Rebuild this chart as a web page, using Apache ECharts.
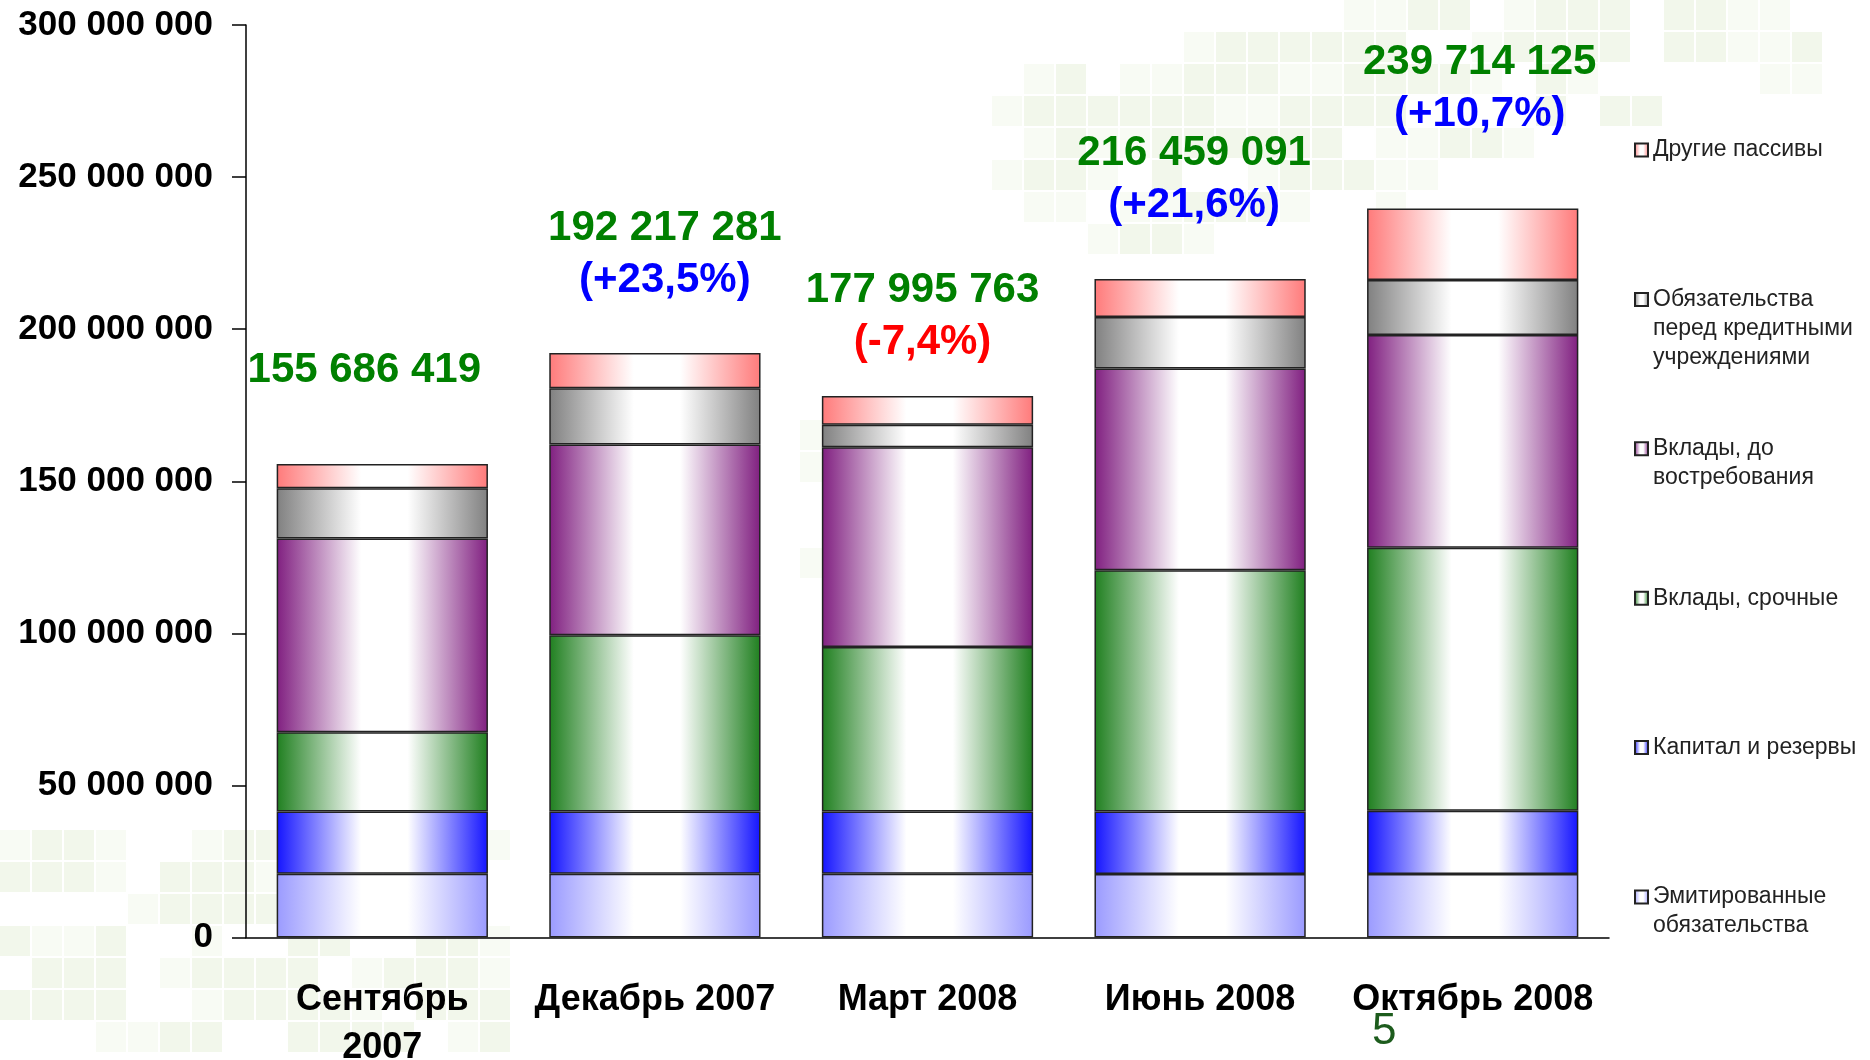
<!DOCTYPE html>
<html>
<head>
<meta charset="utf-8">
<script src="https://cdn.jsdelivr.net/npm/echarts@6/dist/echarts.min.js"></script>
<style>
  html, body { margin: 0; padding: 0; background: #fff; }
  #chart { width: 1870px; height: 1060px; }
</style>
</head>
<body>
<div id="chart"></div>
<script>
// периоды
var categories = ['Сентябрь\n2007', 'Декабрь 2007', 'Март 2008', 'Июнь 2008', 'Октябрь 2008'];
// структура пассивов, млн руб. (снизу вверх)
var emitted = [21.0, 21.0, 21.0, 20.9, 20.9];
var capital = [20.4, 20.4, 20.4, 20.5, 20.8];
var termDeposits = [26.1, 58.0, 54.1, 79.3, 86.4];
var demandDeposits = [63.7, 62.7, 65.7, 66.4, 70.0];
var creditOrgs = [16.5, 18.5, 7.4, 16.9, 18.1];
var otherLiab = [8.0, 11.6, 9.4, 12.5, 23.5];
// итоги и прирост
var totals = [155686419, 192217281, 177995763, 216459091, 239714125];
var changes = ['', '(+23,5%)', '(-7,4%)', '(+21,6%)', '(+10,7%)'];
// шкала, млн руб.
var yMax = 300;
var yStep = 50;

// подписи над столбцами (сдвиги как на слайде)
var labelLift = [67, 46, 28, 48, 68];
var labelShiftX = [-18, 10, -5, -6, 7];

var FONT = '"Liberation Sans", Arial, sans-serif';

function spaced(n) {
  return String(n).replace(/\B(?=(\d{3})+(?!\d))/g, ' ');
}

function grad(c) {
  return {
    type: 'linear', x: 0, y: 0, x2: 1, y2: 0,
    colorStops: [
      { offset: 0, color: c },
      { offset: 0.4, color: '#ffffff' },
      { offset: 0.62, color: '#ffffff' },
      { offset: 1, color: c }
    ]
  };
}

var seriesDefs = [
  { name: 'Эмитированные\nобязательства', data: emitted, color: '#9a9aff' },
  { name: 'Капитал и резервы', data: capital, color: '#1414ff' },
  { name: 'Вклады, срочные', data: termDeposits, color: '#1f7f1f' },
  { name: 'Вклады, до\nвостребования', data: demandDeposits, color: '#801f80' },
  { name: 'Обязательства\nперед кредитными\nучреждениями', data: creditOrgs, color: '#808080' },
  { name: 'Другие пассивы', data: otherLiab, color: '#ff7a7a' }
];

var series = seriesDefs.map(function (s, idx) {
  var item = {
    name: s.name,
    type: 'bar',
    stack: 'total',
    barWidth: '77.5%',
    itemStyle: { color: grad(s.color), borderColor: '#222', borderWidth: 1.5 },
    emphasis: { disabled: true },
    data: s.data
  };
  if (idx === seriesDefs.length - 1) {
    item.data = s.data.map(function (v, i) {
      return { value: v, label: { distance: labelLift[i], offset: [labelShiftX[i], 0] } };
    });
    item.label = {
      show: true,
      position: 'top',
      formatter: function (p) {
        var i = p.dataIndex;
        var s1 = '{t|' + spaced(totals[i]) + '}';
        if (!changes[i]) return s1;
        var key = changes[i].indexOf('-') >= 0 ? 'dn' : 'up';
        return s1 + '\n{' + key + '|' + changes[i] + '}';
      },
      rich: {
        t: { fontFamily: FONT, fontSize: 42, fontWeight: 'bold', color: '#008000', lineHeight: 52 },
        up: { fontFamily: FONT, fontSize: 42, fontWeight: 'bold', color: '#0000ff', lineHeight: 52 },
        dn: { fontFamily: FONT, fontSize: 42, fontWeight: 'bold', color: '#ff0000', lineHeight: 52 }
      }
    };
  }
  return item;
});

// легенда: по отдельному блоку на каждую позицию, сверху вниз
var legendOrder = seriesDefs.slice().reverse();
var legendLine = 29;
var legends = legendOrder.map(function (s, i) {
  var n = s.name.split('\n').length;
  var yc = 150 + i * 149.4;
  return {
    data: [s.name],
    orient: 'vertical',
    left: 1634,
    top: yc - (2 * n - 1) * legendLine / 2,
    padding: 0,
    icon: 'rect',
    itemWidth: 13,
    itemHeight: 13,
    selectedMode: false,
    formatter: function (name) {
      var k = name.split('\n').length;
      return new Array(k).join('\n') + name;
    },
    textStyle: { fontFamily: FONT, fontSize: 23, color: '#222', lineHeight: legendLine }
  };
});

// фоновая «плитка» слайда
var shades = { '1': '#f8fbf4', '2': '#f2f7eb', '3': '#edf4e3' };
var tiles = [
  { x0: 0, y0: 830, rows: [
    '1221..1221....11',
    '2221.2221.122.2.',
    '....1222212221..',
    '2112..1..22..221',
    '.222.12222.12221',
    '2222..122221.222',
    '...1122..2222.12'
  ]},
  { x0: 960, y0: 0, rows: [
    '............1122.1222.2211..',
    '.......1222222..12222.22112.',
    '..12.112221122221.21.....11.',
    '.1222222112222....2.22......',
    '..1211222222.11221..........',
    '.1221.2..122211.............',
    '..11.112221..1..............',
    '....1221....................'
  ]},
  { x0: 800, y0: 420, rows: [
    '11...',
    '121..',
    '.11..',
    '.....',
    '1211.',
    '.121.',
    '..1..'
  ]}
];
var bgElements = [];
tiles.forEach(function (t) {
  t.rows.forEach(function (row, r) {
    for (var c = 0; c < row.length; c++) {
      var ch = row.charAt(c);
      if (ch === '.') continue;
      bgElements.push({
        type: 'rect', silent: true, z: -10,
        shape: { x: t.x0 + c * 32, y: t.y0 + r * 32, width: 30, height: 30 },
        style: { fill: shades[ch] }
      });
    }
  });
});
bgElements.push({
  type: 'text', left: 1372, top: 1010, z: 10,
  style: { text: '5', fill: '#1d5c1d', fontSize: 44, fontFamily: '"Liberation Sans Narrow", ' + FONT }
});

var chart = echarts.init(document.getElementById('chart'), null, { renderer: 'canvas' });
chart.setOption({
  animation: false,
  backgroundColor: '#fff',
  grid: { left: 246, right: 261, top: 25, bottom: 122.5, containLabel: false, outerBoundsMode: 'none' },
  graphic: { elements: bgElements },
  legend: legends,
  xAxis: {
    type: 'category',
    data: categories,
    axisLine: { lineStyle: { color: '#000', width: 1.5 } },
    axisTick: { length: 12, lineStyle: { color: '#000', width: 1.5 } },
    axisLabel: {
      margin: 39, fontFamily: FONT, fontSize: 36, fontWeight: 'bold',
      color: '#000', lineHeight: 48, interval: 0
    }
  },
  yAxis: {
    type: 'value',
    min: 0, max: yMax, interval: yStep,
    axisLine: { show: true, lineStyle: { color: '#000', width: 1.5 } },
    axisTick: { show: true, length: 14, lineStyle: { color: '#000', width: 1.5 } },
    splitLine: { show: false },
    axisLabel: {
      margin: 33, fontFamily: FONT, fontSize: 35, fontWeight: 'bold', color: '#000',
      formatter: function (v) { return spaced(Math.round(v * 1000000)); }
    }
  },
  series: series
});
</script>
</body>
</html>
